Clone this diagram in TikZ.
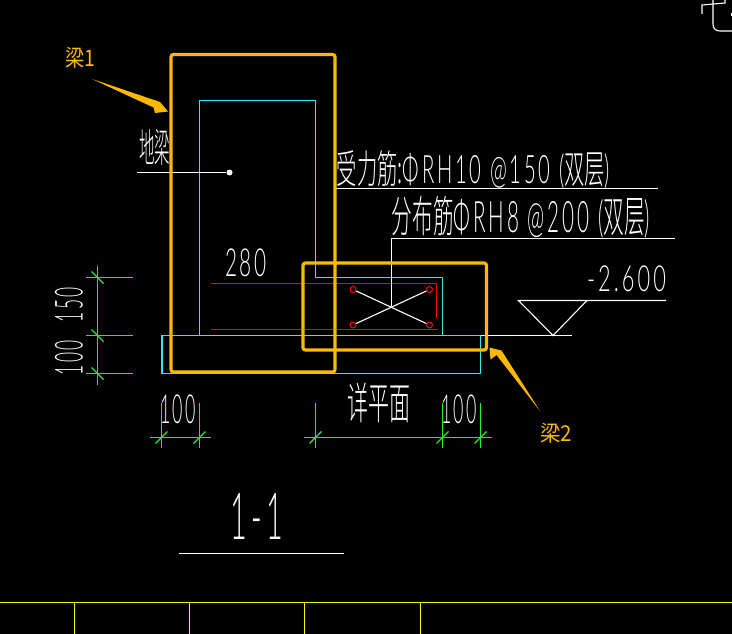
\documentclass[tikz,border=0pt]{standalone}
\usepackage{graphicx}
\usepackage{fontspec}
\newfontfamily\cadfont{Noto Sans CJK SC Light}
\newfontfamily\marcafont{Noto Sans CJK SC}
\newfontfamily\cadnum[LetterSpace=14]{Lato Light}
\definecolor{verde}{HTML}{22EE2A}
\definecolor{marcaco}{HTML}{FCB900}
\definecolor{cian}{HTML}{2CECEC}
\tikzset{
  cad/.style={inner sep=0pt, text=white, font=\cadnum},
  marca/.style={inner sep=0pt, text=marcaco, font=\marcafont},
  contorno/.style={cian, line width=1.1pt},
  barra/.style={red, line width=1.1pt},
  cota/.style={verde, line width=1.1pt},
  guia/.style={white, line width=1.1pt},
  marco/.style={marcaco, line width=3.2pt, rounded corners=2.5pt},
  estribo/.style={circle, draw=red, line width=1pt, minimum size=6pt, inner sep=0pt}
}
\begin{document}
\begin{tikzpicture}[x=1pt, y=-1pt]
    \useasboundingbox (0, 0) rectangle (732, 634);
    \fill[black] (0, 0) rectangle (732, 634);

    % Cajetin inferior
    \draw[yellow, line width=1.1pt] (0, 602.5) -- (732, 602.5);
    \foreach \x in {74.5, 189.5, 304.5, 420.5}
      \draw[yellow, line width=1.1pt] (\x, 602.5) -- (\x, 634);

    % Resto de un caracter arriba a la derecha
    \draw[guia] (702, 14) -- (702, 5) -- (725, 3) -- (725, 0);
    \draw[guia] (713, 0) -- (713, 24) .. controls (713, 29) and (716, 31) .. (720, 31) -- (732, 31);
    \fill[white] (731, 13) rectangle (732, 16);

    % Contorno de la seccion
    \draw[contorno] (199.5, 335.5) -- (199.5, 100.5) -- (315.5, 100.5) -- (315.5, 277.5)
      -- (442.5, 277.5) -- (442.5, 335.5);
    \draw[contorno] (162, 335.5) rectangle (480.5, 373.5);

    % Armadura
    \draw[barra] (211, 283.5) -- (436.5, 283.5) -- (436.5, 318);
    \draw[barra] (211, 329.5) -- (438, 329.5);
    \node[estribo] (barA) at (353, 289.5) {};
    \node[estribo] (barB) at (429.5, 289.5) {};
    \node[estribo] (barC) at (353, 325) {};
    \node[estribo] (barD) at (429.5, 325) {};
    \draw[guia] (barA) -- (barD);
    \draw[guia] (barB) -- (barC);

    % Lineas de referencia
    \coordinate (cruce) at (391.5, 307);
    \coordinate (codo) at (391.5, 238.5);
    \coordinate (finB) at (675, 238.5);
    \coordinate (iniA) at (336, 188.5);
    \coordinate (finA) at (658, 188.5);
    \coordinate (iniS) at (137, 172.5);
    \draw[guia] (cruce) -- (codo) -- (finB);
    \draw[guia] (iniA) -- (finA);
    \node[circle, fill=white, minimum size=6pt, inner sep=0pt] (punto) at (229.5, 172.5) {};
    \draw[guia] (iniS) -- (punto);

    % Nivel
    \coordinate (triA) at (518.5, 300.5);
    \coordinate (triB) at (553, 335.5);
    \coordinate (triC) at (587, 300.5);
    \draw[guia] (666, 300.5) -- (triA) -- (triB) -- (triC);
    \draw[guia] (480.5, 335.5) -- (572, 335.5);

    % Cotas verticales
    \draw[cota] (97.5, 266) -- (97.5, 385);
    \foreach \y in {277.5, 335.5, 373.5} {
      \draw[cota] (86, \y) -- (133, \y);
      \draw[cota] (91.5, \y-6) -- (103.5, \y+6);
    }

    % Cotas horizontales
    \draw[cota] (150, 437.5) -- (211, 437.5);
    \draw[cota] (304, 437.5) -- (491.5, 437.5);
    \foreach \x in {161.5, 199.5, 315.5, 442.5, 480.5} {
      \draw[cota] (\x, 403) -- (\x, 448);
      \draw[cota] (\x-6, 443.5) -- (\x+6, 431.5);
    }

    % Textos
    \node[cad] (tierra) at (154.5, 147) {\resizebox*{31pt}{36pt}{\cadfont 地梁}};
    \node[cad] (textoA) at (473.5, 169.5) {\resizebox*{273pt}{38pt}{{\cadfont 受力筋:}ΦRH10 @150 ({\cadfont 双层})}};
    \node[cad] (textoB) at (521, 217) {\resizebox*{258pt}{42pt}{{\cadfont 分布筋}ΦRH8 @200 ({\cadfont 双层})}};
    \node[cad] (ancho) at (246, 262.5) {\resizebox*{42pt}{28pt}{280}};
    \node[cad] (nivel) at (626.5, 279) {\resizebox*{79pt}{26pt}{-2.600}};
    \node[cad, rotate=90] (cotaA) at (69, 304.5) {\resizebox*{35pt}{28pt}{150}};
    \node[cad, rotate=90] (cotaB) at (69, 357.5) {\resizebox*{35pt}{28pt}{100}};
    \node[cad] (cotaC) at (178, 409) {\resizebox*{36pt}{29pt}{100}};
    \node[cad] (cotaD) at (459, 409) {\resizebox*{36pt}{29pt}{100}};
    \node[cad] (detalle) at (378.5, 403) {\resizebox*{63pt}{40pt}{\cadfont 详平面}};
    \node[cad] (corte) at (257, 516) {\resizebox*{52pt}{46pt}{1-1}};
    \draw[guia] (179, 553.5) -- (344, 553.5);

    % Marcos amarillos
    \draw[marco] (171, 54.5) rectangle (335, 372);
    \draw[marco] (303, 263) rectangle (486.5, 350);

    % Flechas
    \fill[marcaco] (92, 79) -- (160, 102) -- (168, 111.5) -- (155, 113) -- (153.5, 107.5) -- cycle;
    \fill[marcaco] (540, 411) -- (501.5, 350.5) -- (489.5, 347.5) -- (490.5, 359.5) -- (496.5, 355) -- cycle;
    \node[marca] (viga1) at (80.5, 58) {\resizebox*{30pt}{21pt}{梁1}};
    \node[marca] (viga2) at (556, 433) {\resizebox*{32pt}{20pt}{梁2}};
  \end{tikzpicture}
\end{document}
